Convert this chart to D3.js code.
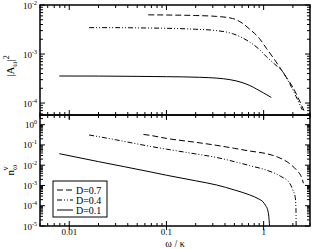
<!DOCTYPE html>
<html>
<head>
<meta charset="utf-8">
<script src="https://cdn.jsdelivr.net/npm/d3@7"></script>
<style>
  body { margin: 0; background: #fff; }
  svg { display: block; }
  text { font-family: "Liberation Serif", "DejaVu Serif", serif; fill: #000; }
</style>
</head>
<body>
<div id="chart"></div>
<script>
// x values (omega / kappa) and curve values
const topW07 = [0.065, 0.1, 0.2, 0.33, 0.48, 0.6, 0.72, 0.9, 1.07, 1.25, 1.46, 1.7, 2.0, 2.3, 2.6];
const topA07 = [6.3e-3, 6.25e-3, 6.1e-3, 5.85e-3, 5.3e-3, 4.3e-3, 3.2e-3, 2.1e-3, 1.3e-3, 8.5e-4, 5.4e-4, 3.4e-4, 2.1e-4, 1.2e-4, 7e-5];
const topW04 = [0.016, 0.03, 0.06, 0.1, 0.2, 0.33, 0.48, 0.72, 0.9, 1.07, 1.3, 1.58, 1.85, 2.16, 2.5];
const topA04 = [3.45e-3, 3.45e-3, 3.4e-3, 3.35e-3, 3.2e-3, 3.0e-3, 2.6e-3, 1.75e-3, 1.25e-3, 8.8e-4, 6.2e-4, 4.3e-4, 2.5e-4, 1.35e-4, 7.2e-5];
const topW01 = [0.0079, 0.02, 0.05, 0.1, 0.22, 0.33, 0.45, 0.6, 0.72, 0.85, 1.0, 1.2];
const topA01 = [3.56e-4, 3.55e-4, 3.5e-4, 3.45e-4, 3.35e-4, 3.22e-4, 3.0e-4, 2.62e-4, 2.28e-4, 1.92e-4, 1.6e-4, 1.3e-4];

const botW07 = [0.058, 0.07, 0.1, 0.2, 0.33, 0.5, 0.72, 1.07, 1.4, 1.85, 2.2, 2.44, 2.57];
const botN07 = [0.33, 0.29, 0.21, 0.135, 0.095, 0.068, 0.05, 0.037, 0.025, 0.012, 5.5e-3, 2.7e-3, 1.3e-3];
const botW04 = [0.016, 0.03, 0.068, 0.1, 0.2, 0.33, 0.5, 0.72, 1.07, 1.5, 1.85, 2.0, 2.11, 2.15, 2.16];
const botN04 = [0.31, 0.18, 0.085, 0.062, 0.036, 0.024, 0.015, 0.0095, 5.7e-3, 2.8e-3, 1.3e-3, 6e-4, 2.8e-4, 8e-5, 1e-5];
const botW01 = [0.0079, 0.02, 0.068, 0.1, 0.2, 0.33, 0.5, 0.72, 0.9, 0.98, 1.05, 1.1, 1.13, 1.15];
const botN01 = [0.037, 0.015, 4.7e-3, 3.2e-3, 1.7e-3, 1.05e-3, 6e-4, 3.4e-4, 2.1e-4, 1.6e-4, 1e-4, 6.3e-5, 3e-5, 1e-5];

const legendLabels = ["D=0.7", "D=0.4", "D=0.1"];
const dashes = ["6,3", "5,2,1,2,1,2", null];
const xTickLabels = ["0.01", "0.1", "1"];

const width = 313, height = 249;
const left = 40, right = 310;
const topY0 = 5, mid = 115, botY1 = 226;

const svg = d3.select("#chart").append("svg")
  .attr("width", width).attr("height", height);

const x = d3.scaleLog().domain([0.005, 3]).range([left, right]);
const yTop = d3.scaleLog().domain([5.7e-5, 1e-2]).range([mid, topY0]);
const yBot = d3.scaleLog().domain([1e-5, 3]).range([botY1, mid]);

function allTicks(scale) {
  const [a, b] = scale.domain();
  const out = [];
  for (let e = Math.floor(Math.log10(a)); e <= Math.ceil(Math.log10(b)); e++) {
    for (let m = 1; m < 10; m++) {
      const v = m * Math.pow(10, e);
      if (v >= a * 0.999 && v <= b * 1.001) out.push({ v: v, major: m === 1 });
    }
  }
  return out;
}

function drawPanel(y, y0, y1) {
  const g = svg.append("g");
  // x ticks on bottom and top edges of the panel
  allTicks(x).forEach(t => {
    const px = x(t.v);
    const L = t.major ? 5 : 3;
    g.append("line").attr("x1", px).attr("x2", px).attr("y1", y1).attr("y2", y1 - L)
      .attr("stroke", "#000").attr("stroke-width", 1);
    g.append("line").attr("x1", px).attr("x2", px).attr("y1", y0).attr("y2", y0 + L)
      .attr("stroke", "#000").attr("stroke-width", 1);
    if (t.major) {
      g.append("line").attr("x1", px).attr("x2", px).attr("y1", y1).attr("y2", y1 + 4)
        .attr("stroke", "#000").attr("stroke-width", 1);
    }
  });
  // y ticks on left and right
  allTicks(y).forEach(t => {
    const py = y(t.v);
    const L = t.major ? 5 : 3;
    g.append("line").attr("x1", left).attr("x2", left + L).attr("y1", py).attr("y2", py)
      .attr("stroke", "#000").attr("stroke-width", 1);
    g.append("line").attr("x1", right).attr("x2", right - L).attr("y1", py).attr("y2", py)
      .attr("stroke", "#000").attr("stroke-width", 1);
    if (t.major) {
      const e = Math.round(Math.log10(t.v));
      const tx = g.append("text").attr("x", left - 3).attr("y", py + 3.5)
        .attr("text-anchor", "end").style("font-size", "9px");
      tx.append("tspan").text("10");
      tx.append("tspan").attr("dy", -4).style("font-size", "6px").text(e);
    }
  });
  g.append("rect").attr("x", left).attr("y", y0).attr("width", right - left).attr("height", y1 - y0)
    .attr("fill", "none").attr("stroke", "#000").attr("stroke-width", 1.5);
  return g;
}

drawPanel(yTop, topY0, mid);
drawPanel(yBot, mid, botY1);

// x tick labels
[0.01, 0.1, 1].forEach((v, i) => {
  svg.append("text").attr("x", x(v)).attr("y", botY1 + 9)
    .attr("text-anchor", "middle").style("font-size", "9px").text(xTickLabels[i]);
});

function drawCurve(y, ws, vs, dash) {
  const line = d3.line().x(d => x(d[0])).y(d => y(d[1])).curve(d3.curveMonotoneX);
  svg.append("path").datum(ws.map((w, i) => [w, vs[i]]))
    .attr("d", line).attr("fill", "none").attr("stroke", "#000")
    .attr("stroke-width", 1).attr("stroke-dasharray", dash);
}

drawCurve(yTop, topW07, topA07, dashes[0]);
drawCurve(yTop, topW04, topA04, dashes[1]);
drawCurve(yTop, topW01, topA01, dashes[2]);
drawCurve(yBot, botW07, botN07, dashes[0]);
drawCurve(yBot, botW04, botN04, dashes[1]);
drawCurve(yBot, botW01, botN01, dashes[2]);

// axis titles
const t1 = svg.append("text").attr("transform", "translate(14,66) rotate(-90)")
  .attr("text-anchor", "middle").style("font-size", "11px");
t1.append("tspan").text("|A");
t1.append("tspan").attr("dy", 3).style("font-size", "8px").text("ω");
t1.append("tspan").attr("dy", -3).text("|");
t1.append("tspan").attr("dy", -5).style("font-size", "8px").text("2");

const t2 = svg.append("text").attr("transform", "translate(14,170) rotate(-90)")
  .attr("text-anchor", "middle").style("font-size", "11px");
t2.append("tspan").text("n");
t2.append("tspan").attr("dy", 3).style("font-size", "8px").text("ω");
t2.append("tspan").attr("dx", -6).attr("dy", -9).style("font-size", "8px").text("v");

svg.append("text").attr("x", 175).attr("y", 247).attr("text-anchor", "middle")
  .style("font-size", "10px").text("ω / κ");

// legend
const lg = svg.append("g");
lg.append("rect").attr("x", 53).attr("y", 181).attr("width", 54).attr("height", 36)
  .attr("fill", "#fff").attr("stroke", "#000").attr("stroke-width", 1);
legendLabels.forEach((lab, i) => {
  const ly = 190 + i * 10;
  lg.append("line").attr("x1", 57).attr("x2", 73).attr("y1", ly).attr("y2", ly)
    .attr("stroke", "#000").attr("stroke-width", 1).attr("stroke-dasharray", dashes[i]);
  lg.append("text").attr("x", 76).attr("y", ly + 3.5).style("font-size", "10px").text(lab);
});
</script>
</body>
</html>
